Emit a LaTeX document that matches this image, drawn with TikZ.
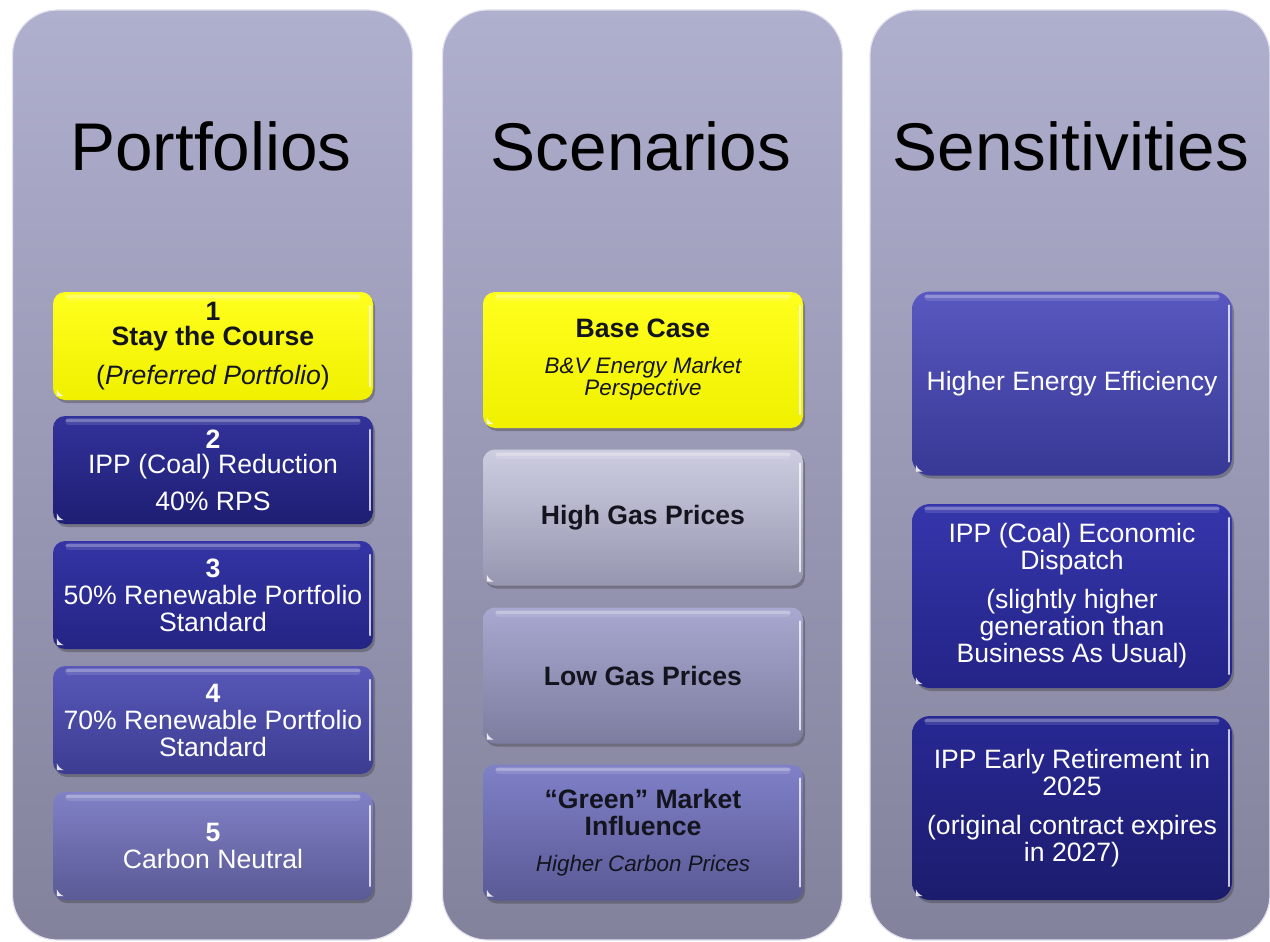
\documentclass[tikz,border=0pt]{standalone}
\usepackage{fontspec}
\setmainfont{Liberation Sans}
\usetikzlibrary{shadows}

% palette
\definecolor{colTop}{RGB}{175,175,206}
\definecolor{colBot}{RGB}{130,130,156}
\definecolor{colRim}{RGB}{225,225,240}
\definecolor{darkText}{RGB}{20,20,30}

\newcommand\glossy[1]{%
  \draw[gloss halo] ([xshift=16pt,yshift=-6pt]#1.north west) -- ([xshift=-16pt,yshift=-6pt]#1.north east);
  \draw[gloss top] ([xshift=14pt,yshift=-5pt]#1.north west) -- ([xshift=-14pt,yshift=-5pt]#1.north east);
  \draw[gloss side] ([xshift=-3pt,yshift=-14pt]#1.north east) -- ([xshift=-3pt,yshift=14pt]#1.south east);
  \fill[white,opacity=.85] ([xshift=4pt,yshift=4pt]#1.south west) -- ([xshift=11pt,yshift=4pt]#1.south west)
     to[bend left=20] ([xshift=4pt,yshift=11pt]#1.south west) -- cycle;
}

\tikzset{
  column/.style={rounded corners=45pt, minimum width=400pt, minimum height=930pt, inner sep=0pt,
    top color=colTop, bottom color=colBot, draw=colRim, line width=1.2pt},
  heading/.style={font=\fontsize{67.5}{70}\selectfont, text=black, inner sep=0pt},
  card/.style={rounded corners=12pt, minimum width=320pt, inner sep=0pt, align=center,
    drop shadow={shadow xshift=2pt, shadow yshift=-3pt, opacity=0.35, fill=black!80},
    font=\fontsize{26.6}{27}\selectfont},
  small card/.style={card, minimum height=108pt},
  mid card/.style={card, minimum height=136pt},
  tall card/.style={card, minimum height=184pt, rounded corners=18pt},
  light text/.style={text=white},
  dark text/.style={text=darkText},
  yellowfill/.style={top color={rgb,255:red,255;green,255;blue,30}, bottom color={rgb,255:red,240;green,240;blue,0}, dark text},
  navyA/.style={top color={rgb,255:red,50;green,50;blue,155}, bottom color={rgb,255:red,30;green,30;blue,115}, light text},
  navyB/.style={top color={rgb,255:red,52;green,52;blue,165}, bottom color={rgb,255:red,36;green,36;blue,132}, light text},
  blueC/.style={top color={rgb,255:red,88;green,88;blue,185}, bottom color={rgb,255:red,60;green,60;blue,145}, light text},
  lavD/.style={top color={rgb,255:red,128;green,128;blue,198}, bottom color={rgb,255:red,90;green,90;blue,150}, light text},
  greyE/.style={top color={rgb,255:red,205;green,205;blue,225}, bottom color={rgb,255:red,150;green,150;blue,176}, dark text},
  lavF/.style={top color={rgb,255:red,168;green,168;blue,208}, bottom color={rgb,255:red,125;green,125;blue,160}, dark text},
  lavG/.style={top color={rgb,255:red,128;green,128;blue,200}, bottom color={rgb,255:red,90;green,90;blue,150}, dark text},
  blueH/.style={top color={rgb,255:red,88;green,88;blue,192}, bottom color={rgb,255:red,56;green,56;blue,150}, light text},
  navyI/.style={top color={rgb,255:red,54;green,54;blue,172}, bottom color={rgb,255:red,35;green,35;blue,135}, light text},
  navyJ/.style={top color={rgb,255:red,40;green,40;blue,148}, bottom color={rgb,255:red,28;green,28;blue,110}, light text},
  gloss halo/.style={white, opacity=.12, line width=7pt, line cap=round},
  gloss top/.style={white, opacity=.25, line width=3pt, line cap=round},
  gloss side/.style={white, opacity=.75, line width=1.6pt, line cap=round},
}
\newcommand\subtext{\fontsize{22.4}{22}\selectfont\itshape}

\begin{document}
\begin{tikzpicture}[x=1pt,y=-1pt]
\useasboundingbox (0,0) rectangle (1270,942);
\fill[white] (0,0) rectangle (1270,942);

% three columns
\node[column] (colP) at (212.5,475) {};
\node[column] (colS) at (642.5,475) {};
\node[column] (colT) at (1070,475) {};

\node[heading] (tP) at (211,146) {Portfolios};
\node[heading] (tS) at (641,146) {Scenarios};
\node[heading] (tT) at (1071,146) {Sensitivities};

% portfolios
\node[small card, yellowfill] (p1) at (213,346)
  {\textbf{1}\\[-2pt]\textbf{Stay the Course}\\[12pt](\textit{Preferred Portfolio})};
\node[small card, navyA] (p2) at (213,470)
  {\textbf{2}\\[-2pt]IPP (Coal) Reduction\\[10pt]40\% RPS};
\node[small card, navyB] (p3) at (213,595)
  {\textbf{3}\\50\% Renewable Portfolio\\Standard};
\node[small card, blueC] (p4) at (213,720)
  {\textbf{4}\\70\% Renewable Portfolio\\Standard};
\node[small card, lavD] (p5) at (213,846)
  {\textbf{5}\\Carbon Neutral};

% scenarios
\node[mid card, yellowfill] (s1) at (643,360)
  {\textbf{Base Case}\\[9pt]{\subtext B\&V Energy Market}\\[-5pt]{\subtext Perspective}};
\node[mid card, greyE] (s2) at (643,517.5) {\textbf{High Gas Prices}};
\node[mid card, lavF] (s3) at (643,675.5) {\textbf{Low Gas Prices}};
\node[mid card, lavG] (s4) at (643,832.5)
  {\textbf{“Green” Market}\\\textbf{Influence}\\[9pt]{\subtext Higher Carbon Prices}};

% sensitivities
\node[tall card, blueH] (e1) at (1072,383.5) {Higher Energy Efficiency};
\node[tall card, navyI] (e2) at (1072,596)
  {IPP (Coal) Economic\\Dispatch\\[12pt](slightly higher\\generation than\\Business As Usual)};
\node[tall card, navyJ] (e3) at (1072,808)
  {IPP Early Retirement in\\2025\\[12pt](original contract expires\\in 2027)};

\foreach \n in {p1,p2,p3,p4,p5,s1,s2,s3,s4,e1,e2,e3} {\glossy{\n}}
\end{tikzpicture}
\end{document}
